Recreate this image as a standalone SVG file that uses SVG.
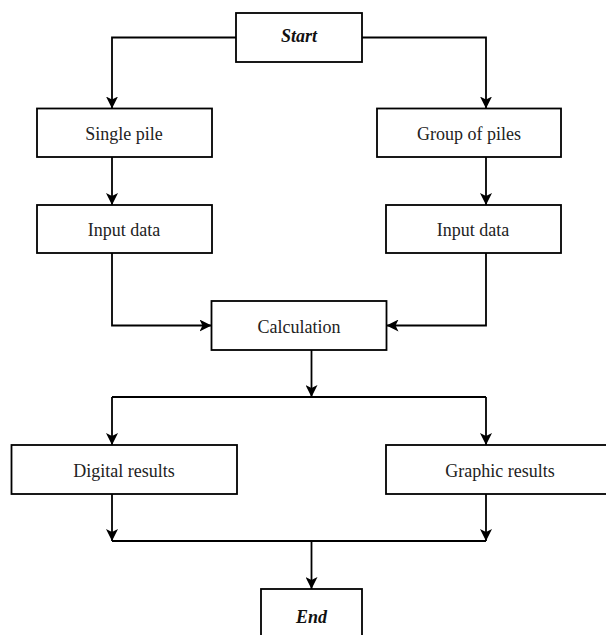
<svg xmlns="http://www.w3.org/2000/svg" width="606" height="635" viewBox="0 0 606 635">
<style>
.box{fill:#fff;stroke:#000;stroke-width:1.8}
.t{font-family:"Liberation Serif","Times New Roman",serif;font-size:18px;fill:#222;text-anchor:middle}
.bi{font-weight:bold;font-style:italic;fill:#111}
.c{fill:none;stroke:#000;stroke-width:1.8}
</style>
<defs>
<marker id="ah" viewBox="0 0 12 12" refX="12" refY="6" markerWidth="12" markerHeight="12" markerUnits="userSpaceOnUse" orient="auto">
<path d="M0,0 L12,6 L0,12 L3,6 Z" fill="#000"/>
</marker>
</defs>
<rect width="606" height="635" fill="#fff"/>
<g id="connectors">
<path class="c" d="M236,37.5 H112 V108.5" marker-end="url(#ah)"/>
<path class="c" d="M362,37.5 H486 V108.5" marker-end="url(#ah)"/>
<path class="c" d="M112,157 V205" marker-end="url(#ah)"/>
<path class="c" d="M486,157 V205" marker-end="url(#ah)"/>
<path class="c" d="M112,253 V325.5 H211.5" marker-end="url(#ah)"/>
<path class="c" d="M486,253 V325.5 H386.5" marker-end="url(#ah)"/>
<path class="c" d="M311.5,350 V397" marker-end="url(#ah)"/>
<path class="c" d="M112,397 H486"/>
<path class="c" d="M112,397 V445" marker-end="url(#ah)"/>
<path class="c" d="M486,397 V445" marker-end="url(#ah)"/>
<path class="c" d="M112,494 V541" marker-end="url(#ah)"/>
<path class="c" d="M486,494 V541" marker-end="url(#ah)"/>
<path class="c" d="M112,541 H486"/>
<path class="c" d="M311.5,541 V589" marker-end="url(#ah)"/>
</g>
<g id="start"><rect class="box" x="236" y="13" width="126" height="49"/><text class="t bi" x="299" y="42">Start</text></g>
<g id="single"><rect class="box" x="37" y="108.5" width="175" height="48.5"/><text class="t" x="124" y="140">Single pile</text></g>
<g id="group"><rect class="box" x="377" y="108.5" width="184" height="48.5"/><text class="t" x="469" y="140">Group of piles</text></g>
<g id="input1"><rect class="box" x="37" y="205" width="175" height="48"/><text class="t" x="124" y="236">Input data</text></g>
<g id="input2"><rect class="box" x="386" y="205" width="175" height="48"/><text class="t" x="473" y="236">Input data</text></g>
<g id="calc"><rect class="box" x="211.5" y="301" width="175" height="49"/><text class="t" x="299" y="333">Calculation</text></g>
<g id="digital"><rect class="box" x="11.5" y="445" width="225.5" height="49"/><text class="t" x="124" y="477">Digital results</text></g>
<g id="graphic"><rect class="box" x="386" y="445" width="228" height="49"/><text class="t" x="500" y="477">Graphic results</text></g>
<g id="end"><rect class="box" x="261" y="589" width="101" height="49"/><text class="t bi" x="311.5" y="623">End</text></g>
</svg>
